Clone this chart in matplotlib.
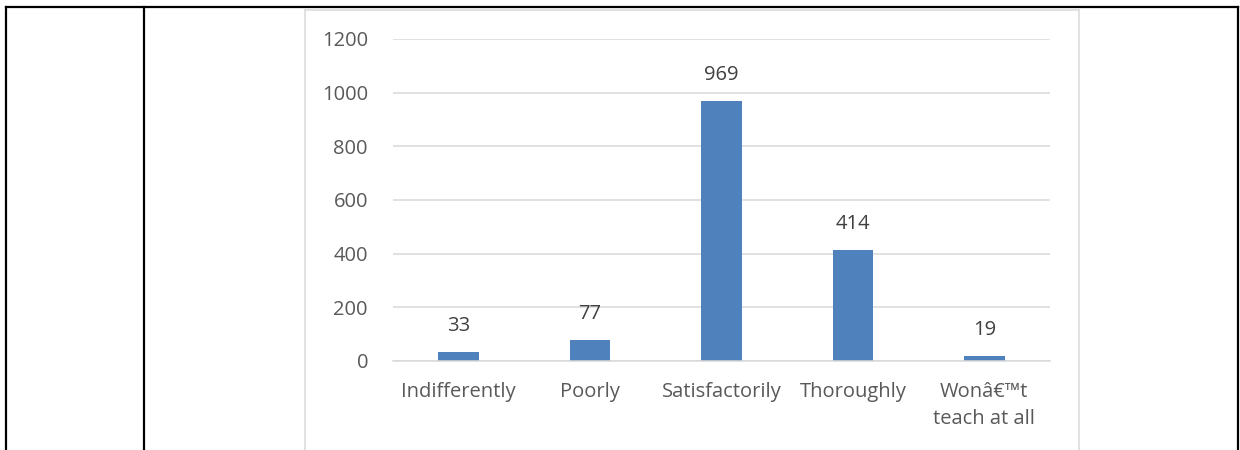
import matplotlib.pyplot as plt
from matplotlib.lines import Line2D

# data
categories = ["Indifferently", "Poorly", "Satisfactorily", "Thoroughly",
              "Wonâ€™t\nteach at all"]
counts = [33, 77, 969, 414, 19]
yticks = [0, 200, 400, 600, 800, 1000, 1200]

W, H = 1240, 450
plt.rcParams['font.family'] = ['Open Sans', 'DejaVu Sans']

fig = plt.figure(figsize=(W / 100, H / 100), dpi=100)
fig.patch.set_facecolor("white")


def px(x, y):
    return x / W, 1 - y / H


def fig_line(x0, y0, x1, y1, color, lw):
    a = px(x0, y0)
    b = px(x1, y1)
    fig.add_artist(Line2D([a[0], b[0]], [a[1], b[1]], transform=fig.transFigure,
                          color=color, lw=lw, solid_capstyle="projecting"))


# table borders
fig_line(6, 7, 1238, 7, "black", 1.6)
fig_line(6, 7, 6, 450, "black", 1.6)
fig_line(144, 7, 144, 450, "black", 1.6)
fig_line(1238, 7, 1238, 450, "black", 1.6)

# chart frame
fig_line(305, 10, 1079, 10, "#d9d9d9", 1.1)
fig_line(305, 10, 305, 450, "#d9d9d9", 1.1)
fig_line(1079, 10, 1079, 450, "#d9d9d9", 1.1)

left, right = 393 / W, 1050 / W
bottom, top = (H - 361) / H, (H - 39) / H
ax = fig.add_axes([left, bottom, right - left, top - bottom])

x = range(len(categories))
bars = ax.bar(x, counts, width=0.31, color="#4f81bd", zorder=3)
ax.set_xlim(-0.5, len(categories) - 0.5)
ax.set_ylim(0, 1200)
ax.set_yticks(yticks)
ax.set_xticks(list(x))
ax.set_xticklabels(categories, linespacing=1.45)

for s in ["top", "right", "left"]:
    ax.spines[s].set_visible(False)
ax.spines["bottom"].set_color("#d9d9d9")
ax.spines["bottom"].set_linewidth(1.1)
ax.spines["bottom"].set_zorder(4)
ax.grid(axis="y", color="#d9d9d9", lw=1.1, zorder=0)
ax.tick_params(axis="both", length=0, labelsize=14.5, colors="#595959")
ax.tick_params(axis="y", pad=18)
ax.tick_params(axis="x", pad=15)

for b, v in zip(bars, counts):
    ax.annotate(str(v), (b.get_x() + b.get_width() / 2, v), xytext=(0, 19),
                textcoords="offset points", ha="center", va="center",
                fontsize=14.5, color="#404040", annotation_clip=False)

fig.savefig("out.png", dpi=100)
